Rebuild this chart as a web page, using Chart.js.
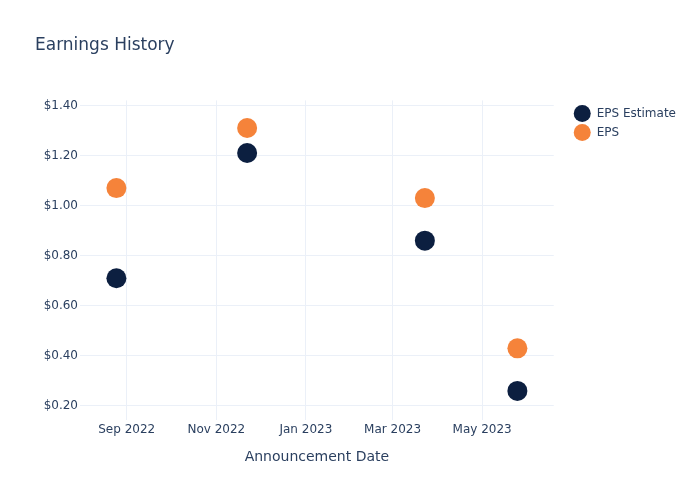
<!DOCTYPE html>
<html>
<head>
<meta charset="utf-8">
<script src="https://cdn.jsdelivr.net/npm/chart.js@4/dist/chart.umd.min.js"></script>
<style>
  html, body { margin: 0; padding: 0; background: #fff; }
  #wrap { width: 700px; height: 500px; }
</style>
</head>
<body>
<div id="wrap"><canvas id="graficaEps"></canvas></div>
<script>
// Data:
var announceDates = ["2022-08-25", "2022-11-22", "2023-03-23", "2023-05-25"];
var epsEstimate = [0.71, 1.21, 0.86, 0.26];
var epsActual = [1.07, 1.31, 1.03, 0.43];

// Axis ticks:
var xTickDates = ["2022-09-01", "2022-11-01", "2023-01-01", "2023-03-01", "2023-05-01"];
var xTickLabels = ["Sep 2022", "Nov 2022", "Jan 2023", "Mar 2023", "May 2023"];
var yTickValues = [0.2, 0.4, 0.6, 0.8, 1.0, 1.2, 1.4];

// Axis range:
var xRange = ["2022-07-31T05:00:00Z", "2023-06-18T18:00:00Z"];
var yRange = [0.144, 1.42];

const textColor = "#2a3f5f";
const gridColor = "#ebf0f8";
const fontFamily = "'DejaVu Sans', sans-serif";

function toTime(s)
{
    return Date.parse(s.length == 10 ? s + "T00:00:00Z" : s);
}

function toPoints(values)
{
    var points = [];
    for (let i = 0; i < values.length; i++)
    {
        points.push({x: toTime(announceDates[i]), y: values[i]});
    }
    return points;
}

// Move legend a bit to the right, away from the plot:
const legendShift = {
    id: "legendShift",
    afterLayout: function (chart)
    {
        chart.legend.left += 13;
        chart.legend.right += 13;
    }
};

const ctx = document.getElementById("graficaEps").getContext("2d");
const chart = new Chart(ctx, {
    type: "scatter",
    data: {
        datasets: [
            {label: "EPS Estimate", data: toPoints(epsEstimate), backgroundColor: "#0c1f40", borderColor: "#0c1f40", pointBorderWidth: 0, pointRadius: 10, pointHoverRadius: 10},
            {label: "EPS", data: toPoints(epsActual), backgroundColor: "#f5833a", borderColor: "#f5833a", pointBorderWidth: 0, pointRadius: 10, pointHoverRadius: 10}
        ]
    },
    plugins: [legendShift],
    options: {
        responsive: true,
        maintainAspectRatio: false,
        animation: false,
        layout: {
            padding: {left: 35, right: 27, top: 0, bottom: 0}
        },
        plugins: {
            title: {
                display: true,
                text: "Earnings History",
                align: "start",
                color: textColor,
                font: {family: fontFamily, size: 17, weight: "normal"},
                padding: {top: 35, bottom: 45}
            },
            legend: {
                position: "right",
                align: "start",
                fullSize: false,
                labels: {
                    usePointStyle: true,
                    pointStyle: "circle",
                    pointStyleWidth: 17,
                    color: textColor,
                    padding: 7,
                    font: {family: fontFamily, size: 12}
                }
            },
            tooltip: {enabled: false}
        },
        scales: {
            x: {
                type: "linear",
                min: toTime(xRange[0]),
                max: toTime(xRange[1]),
                grid: {color: gridColor, drawTicks: false},
                border: {display: false},
                afterBuildTicks: function (scale)
                {
                    scale.ticks = xTickDates.map(function (d) { return {value: toTime(d)}; });
                },
                afterFit: function (scale)
                {
                    scale.height = 80;
                },
                ticks: {
                    color: textColor,
                    padding: 3,
                    maxRotation: 0,
                    font: {family: fontFamily, size: 12},
                    callback: function (value, index)
                    {
                        return xTickLabels[index];
                    }
                },
                title: {
                    display: true,
                    text: "Announcement Date",
                    color: textColor,
                    font: {family: fontFamily, size: 14},
                    padding: {top: 0, bottom: 34}
                }
            },
            y: {
                min: yRange[0],
                max: yRange[1],
                grid: {color: gridColor, drawTicks: false},
                border: {display: false},
                afterBuildTicks: function (scale)
                {
                    scale.ticks = yTickValues.map(function (v) { return {value: v}; });
                },
                afterFit: function (scale)
                {
                    scale.width = 45;
                },
                ticks: {
                    color: textColor,
                    padding: 2,
                    font: {family: fontFamily, size: 12},
                    callback: function (value)
                    {
                        return "$" + value.toFixed(2);
                    }
                }
            }
        }
    }
});
</script>
</body>
</html>
